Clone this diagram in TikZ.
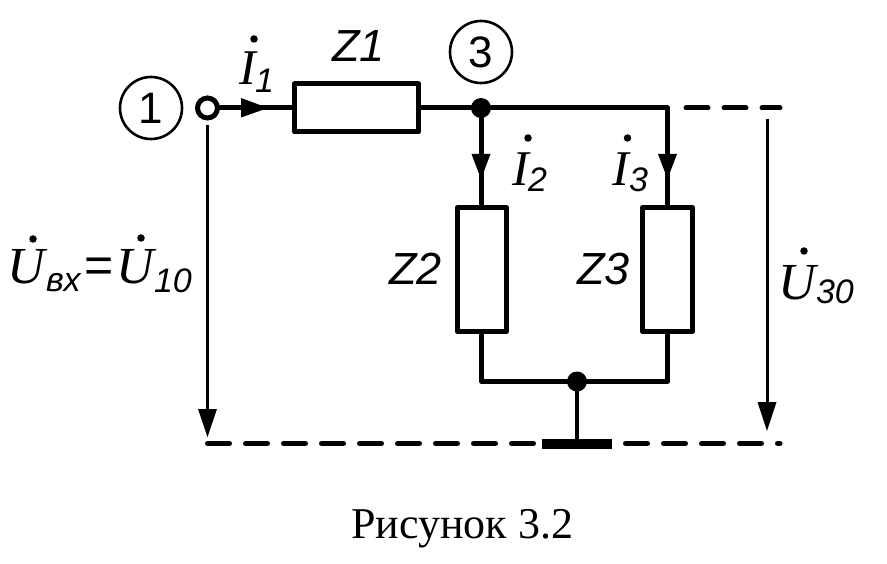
\documentclass[tikz,border=0pt]{standalone}
\usepackage{fontspec}
\setmainfont{Liberation Sans}
\newfontfamily\capfont{Liberation Serif}
\tikzset{
  x=1pt,y=-1pt,
  wire/.style={line width=5pt,line cap=round,line join=round},
  thinw/.style={line width=3pt},
  zbox/.style={draw,line width=5pt,minimum width=0pt,minimum height=0pt,inner sep=0pt,line join=round},
  lab/.style={inner sep=0pt,outer sep=0pt,anchor=base west,font=\fontsize{45}{45}\selectfont\itshape},
  ilab/.style={lab,font=\fontsize{50}{50}\selectfont\itshape\capfont},
  ulab/.style={lab,font=\fontsize{52}{52}\selectfont\itshape\capfont},
  eqlab/.style={lab,font=\fontsize{50}{50}\selectfont},
  sublab/.style={lab,font=\fontsize{34}{34}\selectfont\itshape},
  numc/.style={draw,circle,line width=2.6pt,minimum size=62pt,inner sep=0pt,font=\fontsize{44}{44}\selectfont},
  dotn/.style={fill=black,circle,minimum size=20pt,inner sep=0pt},
  tinyd/.style={fill=black,circle,minimum size=7.5pt,inner sep=0pt},
  thead/.style={fill=black,draw=none},
  dashl/.style={line width=5pt,line cap=round,dash pattern=on 22pt off 16pt}
}
\begin{document}
\begin{tikzpicture}
\useasboundingbox (0,0) rectangle (887,564);
% boxes
\node[zbox,minimum width=124pt,minimum height=48pt] (z1) at (356.5,108) {};
\node[zbox,minimum width=49pt,minimum height=124pt] (z2) at (482,269.5) {};
\node[zbox,minimum width=50pt,minimum height=124pt] (z3) at (667.5,269.5) {};
% junctions and terminal
\node[draw,circle,line width=5pt,minimum size=20pt,inner sep=0pt,fill=white] (t1) at (207.5,108) {};
\node[dotn] (j3) at (481,108) {};
\node[dotn] (j0) at (577,381.5) {};
\node[numc] (n1) at (151,108) {1};
\node[numc] (n3) at (481,52) {3};
\coordinate (c3) at (667.5,108);
\coordinate (cb) at (481.5,381.5);
\coordinate (cc) at (667.5,381.5);
\coordinate (d1) at (686,108);
\coordinate (d2) at (780,108);
\coordinate (g) at (577,444);
\coordinate (bl) at (207.5,443.5);
\coordinate (br) at (780,443.5);
% wires
\draw[wire] (t1) -- (z1);
\draw[wire] (z1) -- (j3) -- (c3) -- (z3);
\draw[wire] (j3) -- (j3 |- z2.north);
\draw[wire,line width=4.5pt] (cb |- z2.south) -- (cb) -- (cc) -- (z3);
\draw[wire,line width=4.5pt] (j0) -- (g);
\draw[dashl] (d1) -- (d2);
\draw[dashl] (bl) -- (br);
\node[fill=black,minimum width=70pt,minimum height=10pt,inner sep=0pt] (gb) at (g) {};
% current arrow heads
\fill[thead] (241,98) -- (268,108) -- (241,117.5) -- cycle;
\fill[thead] (471.5,154) -- (490.5,154) -- (481,179) -- cycle;
\fill[thead] (658,154) -- (677,154) -- (667.5,179) -- cycle;
% voltage arrows
\coordinate (a1) at (207.5,125);
\coordinate (a1e) at (207.5,412);
\coordinate (a2) at (767,119);
\coordinate (a2e) at (767,405);
\draw[thinw] (a1) -- (a1e);
\draw[thinw] (a2) -- (a2e);
\fill[thead] (198,409) -- (217,409) -- (207.5,437) -- cycle;
\fill[thead] (757.5,402) -- (776.5,402) -- (767,431) -- cycle;
% labels
\node[lab] (lz1) at (332,62) {Z1};
\node[lab] (lz2) at (389,285) {Z2};
\node[lab] (lz3) at (577,285) {Z3};
\node[ilab] (li1) at (239,85) {I};
\node[sublab] (si1) at (255,93) {1};
\node[ilab] (li2) at (512,186) {I};
\node[sublab] (si2) at (528,192) {2};
\node[ilab] (li3) at (612,186) {I};
\node[sublab] (si3) at (629,192) {3};
\node[tinyd] (di1) at (254,39) {};
\node[tinyd] (di2) at (528,138) {};
\node[tinyd] (di3) at (627.5,138) {};
\node[ulab] (lu1) at (8,284) {U};
\node[sublab] (su1) at (46,292) {вх};
\node[eqlab] (leq) at (84.5,283) {=};
\node[ulab] (lu2) at (116,284) {U};
\node[sublab] (su2) at (154,293) {10};
\node[tinyd] (du1) at (33,239) {};
\node[tinyd] (du2) at (141,238) {};
\node[ulab] (lu3) at (778,300) {U};
\node[sublab] (su3) at (816,304) {30};
\node[tinyd] (du3) at (804,251) {};
\node[inner sep=0pt,anchor=base west,font=\fontsize{44}{44}\selectfont\capfont] (cap) at (351,538) {Рисунок 3.2};
\end{tikzpicture}
\end{document}
